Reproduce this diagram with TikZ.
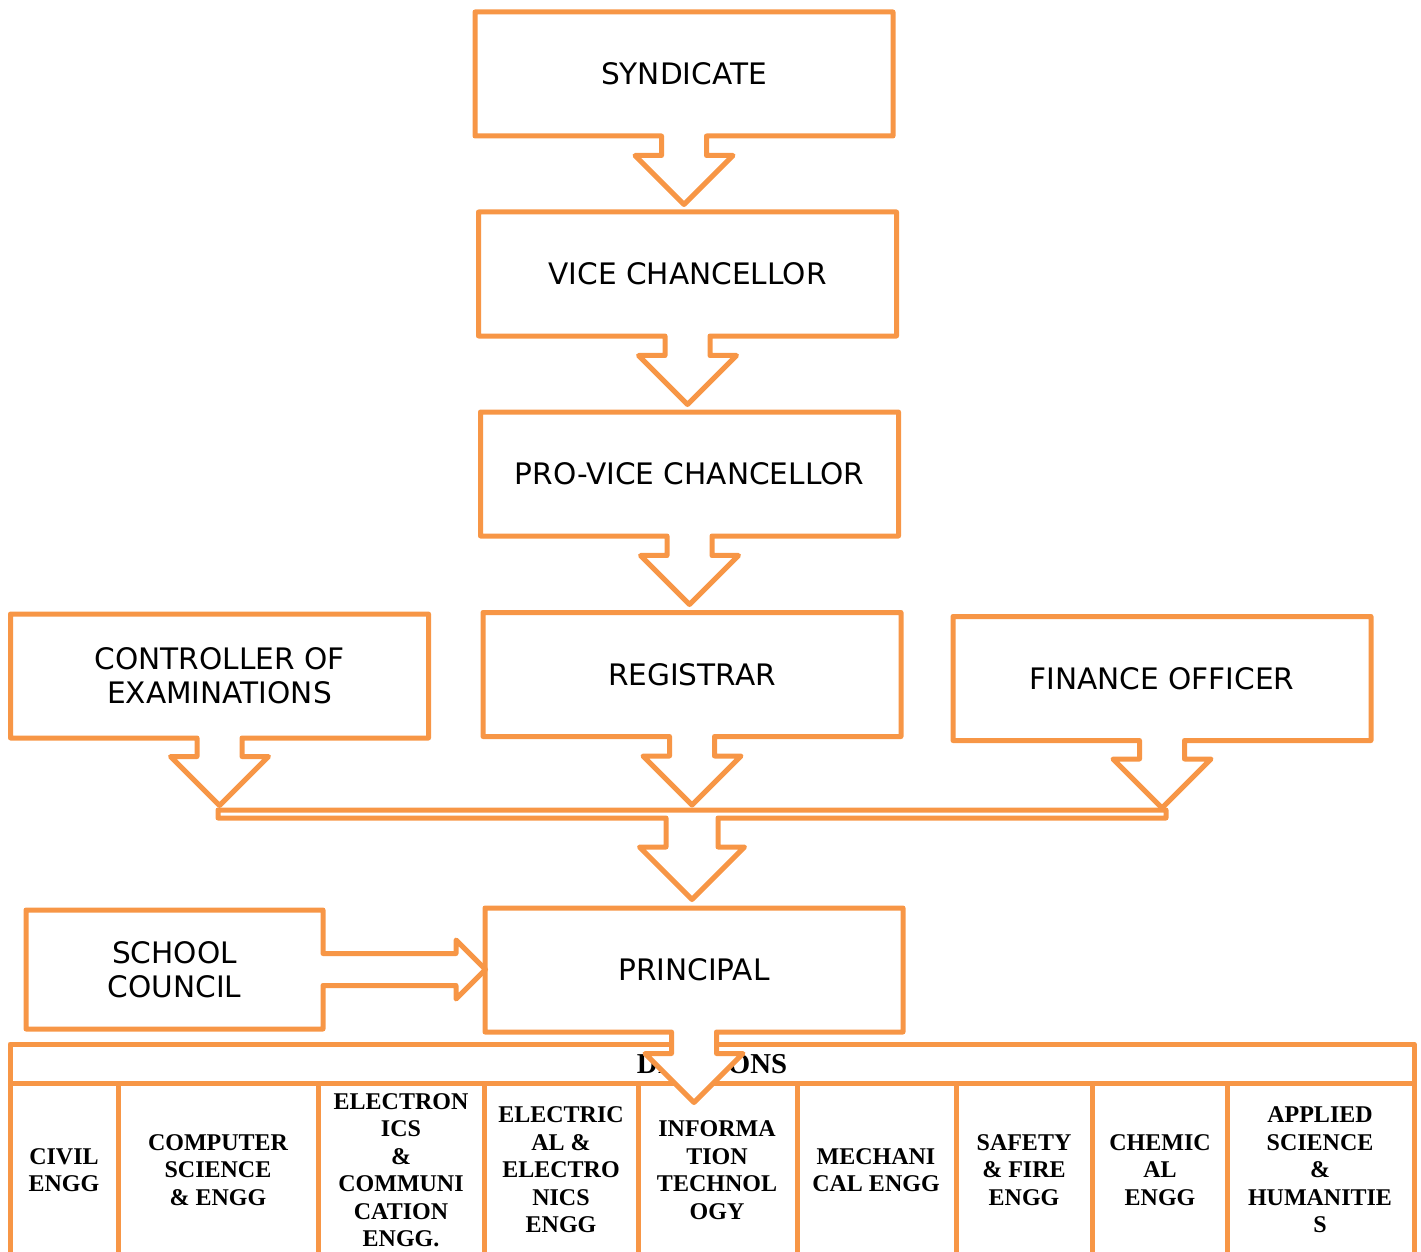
\documentclass[tikz,border=0pt]{standalone}
\usepackage{fontspec}
\setmainfont{DejaVu Sans}
\newfontfamily\deptfont{Liberation Serif}
\usetikzlibrary{shapes.arrows}
\definecolor{chartorange}{HTML}{F79646}

\begin{document}
\begin{tikzpicture}[x=0.5pt,y=-0.5pt,line width=2.5pt,line join=round,
                    main node/.style={arrow box,draw=chartorange,fill=white,inner sep=0pt,
                      minimum width=209pt,minimum height=62pt,align=center,
                      font=\fontsize{14.8}{17}\selectfont,
                      arrow box arrows={south:33pt},arrow box shaft width=22.5pt,
                      arrow box head extend=13.25pt,arrow box tip angle=90},
                    dept/.style={align=center,font=\deptfont\bfseries\fontsize{12}{13.75}\selectfont}]
  \useasboundingbox (0,0) rectangle (1421,1252);

  % divisions table
  \draw[chartorange] (10,1260) |- (1414,1044) -- (1414,1260);
  \draw[chartorange] (10,1083) -- (1414,1083);
  \foreach \x in {118,318,484,638,797,956,1092,1227}
    \draw[chartorange] (\x,1083) -- (\x,1260);
  \node[dept,font=\deptfont\bfseries\fontsize{14.4}{16}\selectfont] (div) at (712,1064) {DIVISIONS};
  \foreach \x/\txt [count=\i] in {64/{CIVIL\\ENGG},218/{COMPUTER\\SCIENCE\\\& ENGG},
      401/{ELECTRON\\ICS\\\&\\COMMUNI\\CATION\\ENGG.},561/{ELECTRIC\\AL \&\\ELECTRO\\NICS\\ENGG},
      717/{INFORMA\\TION\\TECHNOL\\OGY},876/{MECHANI\\CAL ENGG},1024/{SAFETY\\\& FIRE\\ENGG},
      1160/{CHEMIC\\AL\\ENGG},1320/{APPLIED\\SCIENCE\\\&\\HUMANITIE\\S}}
    \node[dept] (d\i) at (\x,1170) {\txt};

  % offices
  \node[main node] (synd) at (684,74) {SYNDICATE};
  \node[main node] (vc) at (687.5,274) {VICE CHANCELLOR};
  \node[main node] (pvc) at (689.5,474) {PRO-VICE CHANCELLOR};
  \node[main node] (reg) at (692,674.5) {REGISTRAR};
  \node[main node,arrow box arrows={south:32.5pt}] (coe) at (219.5,676) {CONTROLLER OF\\EXAMINATIONS};
  \node[main node,arrow box arrows={south:32.5pt}] (fo) at (1162,678.5) {FINANCE OFFICER};
  \node[main node,minimum width=474pt,minimum height=4pt,arrow box arrows={south:39.5pt},
        arrow box shaft width=26pt] (merge) at (692,814) {};
  \node[main node,arrow box arrows={south:34pt}] (princ) at (694,970) {PRINCIPAL};
  \node[main node,minimum width=148.5pt,minimum height=59.5pt,arrow box arrows={east:80pt},
        arrow box shaft width=16pt,arrow box head extend=6.75pt] (council) at (174.5,969.5) {SCHOOL\\COUNCIL};
\end{tikzpicture}
\end{document}
